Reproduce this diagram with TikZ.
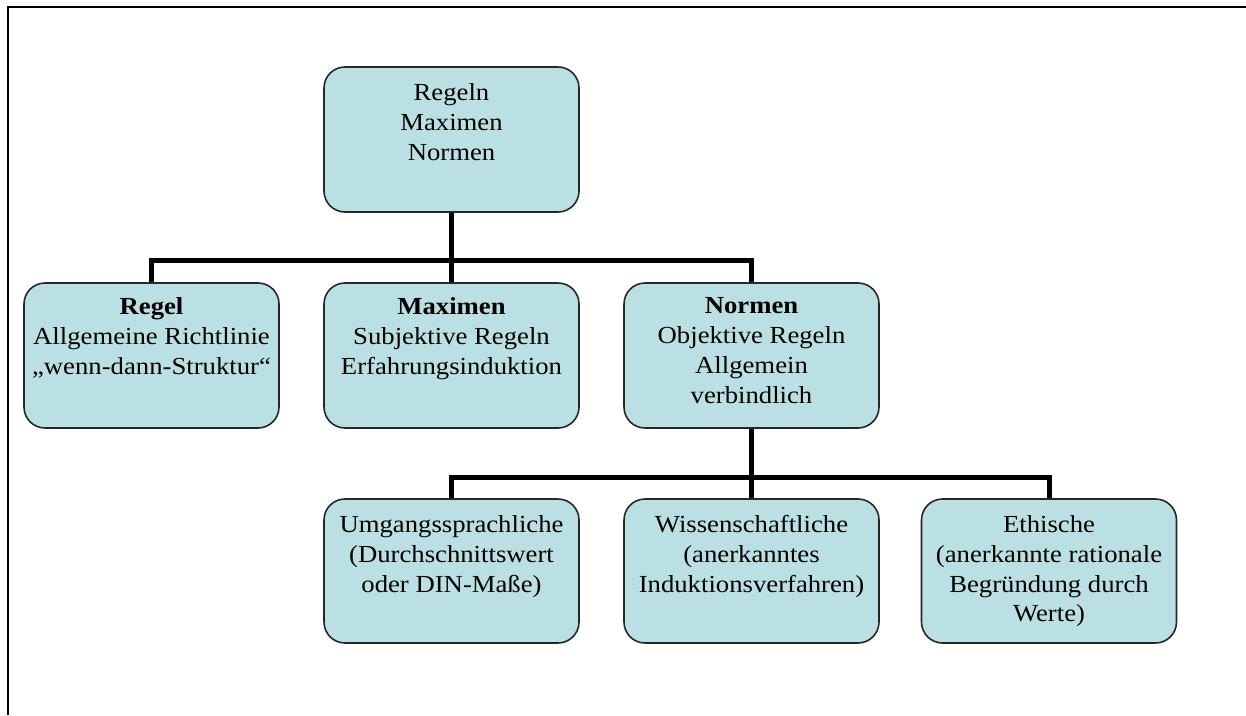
\documentclass[tikz,border=0pt]{standalone}
\usepackage{fontspec}
\setmainfont[FakeStretch=1.09]{Liberation Serif}
\usetikzlibrary{backgrounds}
\begin{document}
\begin{tikzpicture}[x=1pt,y=-1pt,
  box/.style={draw=black!85, line width=1.6pt, fill=boxfill, rounded corners=21pt,
    minimum width=255pt, minimum height=145pt, inner sep=0pt},
  txt/.style={anchor=north, align=center, inner sep=0pt,
    font=\fontsize{24.5}{29.8}\selectfont},
  conn/.style={line width=5pt, line join=miter, black}]
\definecolor{boxfill}{RGB}{187,224,227}
\useasboundingbox (0,0) rectangle (1246,715);
% frame: top and left edges
\draw[line width=2.2pt] (8,715) -- (8,7) -- (1246,7);

% junction points of the two bus lines
\coordinate (bus1) at (451.5,260);
\coordinate (bus2) at (751.5,477);

% boxes
\node[box] (top) at (451.5,139.5) {};
\node[box] (regel) at (151.5,355.5) {};
\node[box] (maxim) at (451.5,355.5) {};
\node[box] (normen) at (751.5,355.5) {};
\node[box, minimum height=144pt] (umg) at (451.5,571) {};
\node[box, minimum height=144pt] (wiss) at (751.5,571) {};
\node[box, minimum height=144pt] (eth) at (1049,571) {};

% texts
\node[txt] (ttop) at ([yshift=-17pt]top.north) {Regeln\\Maximen\\Normen};
\node[txt] (tregel) at ([yshift=-15.5pt]regel.north) {\textbf{Regel}\\Allgemeine Richtlinie\\„wenn-dann-Struktur“};
\node[txt] (tmaxim) at ([yshift=-15.5pt]maxim.north) {\textbf{Maximen}\\Subjektive Regeln\\Erfahrungsinduktion};
\node[txt] (tnormen) at ([yshift=-15.5pt]normen.north) {\textbf{Normen}\\Objektive Regeln\\Allgemein\\verbindlich};
\node[txt] (tumg) at ([yshift=-17pt]umg.north) {Umgangssprachliche\\(Durchschnittswert\\oder DIN-Maße)};
\node[txt] (twiss) at ([yshift=-17pt]wiss.north) {Wissenschaftliche\\(anerkanntes\\Induktionsverfahren)};
\node[txt] (teth) at ([yshift=-17pt]eth.north) {Ethische\\(anerkannte rationale\\Begründung durch\\Werte)};

% tree lines, behind the boxes
\begin{scope}[on background layer]
\draw[conn] (top.center) -- (bus1);
\draw[conn] (regel.center) |- (bus1);
\draw[conn] (normen.center) |- (bus1);
\draw[conn] (maxim.center) -- (bus1);
\draw[conn] (normen.center) -- (bus2);
\draw[conn] (umg.center) |- (bus2);
\draw[conn] (eth.center) |- (bus2);
\draw[conn] (wiss.center) -- (bus2);
\end{scope}
\end{tikzpicture}
\end{document}
